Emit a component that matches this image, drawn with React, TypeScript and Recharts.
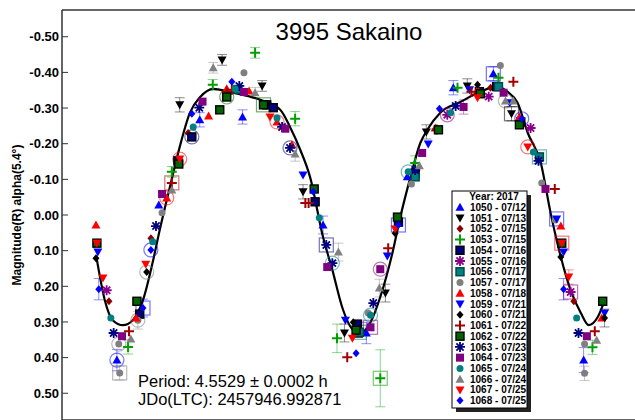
import React from "react";
import { ComposedChart, Scatter, Line, XAxis, YAxis, ErrorBar } from "recharts";

// [phase, magnitude, error?]
type Pt = [number, number, number?];

const xTicks = [0, 0.1, 0.2, 0.3, 0.4, 0.5, 0.6, 0.7, 0.8, 0.9, 1.0];
const yTicks = [-0.5, -0.4, -0.3, -0.2, -0.1, 0, 0.1, 0.2, 0.3, 0.4, 0.5];

const s1050: Pt[] = [[0.088, -0.028], [0.176, -0.267, 0.02], [0.268, -0.275, 0.02], [0.441, 0.028, 0.025], [0.534, 0.331, 0.03], [0.622, -0.107], [0.721, -0.357, 0.02], [0.807, -0.396, 0.02], [-0.002, 0.407, 0.03], [1.001, 0.407, 0.035]];
const s1051: Pt[] = [[0.224, -0.435, 0.015], [0.31, -0.362, 0.015], [0.133, -0.309, 0.02], [0.398, -0.065, 0.02], [0.487, 0.331, 0.025], [0.575, 0.219, 0.025], [0.663, -0.233, 0.02], [0.751, -0.362, 0.02], [0.846, -0.284, 0.02]];
const s1052: Pt[] = [[0.151, -0.23], [-0.019, 0.242], [0.071, 0.065], [0.801, -0.357], [0.98, 0.242]];
const s1053: Pt[] = [[0.295, -0.455, 0.015], [0.204, -0.365, 0.015], [0.381, -0.27, 0.02], [0.116, -0.121, 0.015], [0.022, 0.37, 0.02], [0.471, 0.346, 0.04], [0.564, 0.458, 0.08], [0.639, -0.146, 0.02], [0.73, -0.357], [0.818, -0.385], [1.02, 0.371, 0.02]];
const s1054: Pt[] = [[0.159, -0.219], [0.32, -0.309], [0.334, -0.301], [0.424, -0.037], [0.129, -0.152], [0.047, 0.278], [0.515, 0.306], [0.517, 0.331], [0.603, 0.02], [0.639, -0.118], [0.777, -0.346], [0.814, -0.36], [0.866, -0.261]];
const s1055: Pt[] = [[-0.024, 0.211], [0.708, -0.281], [0.797, -0.332], [0.887, -0.244], [0.973, 0.216]];
const s1056: Pt[] = [[0.519, 0.329], [0.639, -0.107], [0.818, -0.36], [0.906, -0.163], [0.258, -0.352]];
const s1057: Pt[] = [[0.271, -0.399], [0.002, 0.362], [0.004, 0.443, 0.02], [0.043, 0.295, 0.025], [0.095, -0.006], [0.538, 0.275], [0.631, -0.087], [0.822, -0.419], [0.911, -0.09], [0.94, 0.014], [1.003, 0.362], [1.003, 0.444, 0.02]];
const s1058: Pt[] = [[0.234, -0.354], [0.282, -0.348], [0.195, -0.278], [0.105, -0.048], [-0.047, 0.028], [0.039, 0.289], [0.374, -0.197], [0.342, -0.261], [0.682, -0.244], [0.773, -0.351], [0.863, -0.275], [0.952, 0.031], [1.04, 0.289]];
const s1059: Pt[] = [[-0.043, 0.104], [0.398, -0.112], [0.489, 0.295], [0.579, 0.115], [0.667, -0.199], [0.756, -0.351], [0.842, -0.315], [0.943, 0.011], [0.958, 0.104], [1.046, 0.275]];
const s1060: Pt[] = [[-0.047, 0.121], [0.062, 0.16], [0.506, 0.301], [0.596, 0.051], [0.773, -0.365], [0.952, 0.118], [1.046, 0.289, 0.025]];
const s1061: Pt[] = [[0.234, -0.346], [0.245, -0.351], [0.403, -0.034], [0.41, -0.034], [0.116, -0.09], [0.024, 0.326], [0.493, 0.399], [0.581, 0.093], [0.76, -0.346], [0.85, -0.374], [0.939, -0.073], [1.025, 0.326], [0.685, -0.24]];
const s1062: Pt[] = [[0.234, -0.331], [0.219, -0.295], [0.313, -0.309], [0.422, -0.073], [0.131, -0.143], [-0.045, 0.079], [0.041, 0.242], [0.512, 0.323], [0.601, 0.006], [0.689, -0.239], [0.779, -0.34], [0.863, -0.253], [0.954, 0.079], [1.042, 0.242]];
const s1063: Pt[] = [[0.261, -0.362], [0.175, -0.301], [0.353, -0.247], [0.37, -0.188], [-0.009, 0.331], [0.082, 0.031], [0.448, 0.084], [0.461, 0.135], [0.549, 0.247], [0.639, -0.126], [0.726, -0.306], [0.904, -0.152], [0.99, 0.331]];
const s1064: Pt[] = [[0.271, -0.345], [0.182, -0.318], [0.36, -0.242], [0.095, -0.059], [0.009, 0.34], [0.45, 0.146], [0.543, 0.315], [0.564, 0.152], [0.654, -0.174], [0.743, -0.303, 0.02], [0.829, -0.343], [0.919, -0.073], [1.008, 0.34]];
const s1065: Pt[] = [[0.252, -0.354], [0.162, -0.247], [0.342, -0.272], [-0.015, 0.289], [0.075, 0.075], [0.433, 0.008], [0.543, 0.281], [0.624, -0.121], [0.715, -0.287], [0.893, -0.177], [0.986, 0.289]];
const s1066: Pt[] = [[0.205, -0.413, 0.015], [0.295, -0.343, 0.015], [0.381, -0.171, 0.02], [0.116, -0.07], [0.028, 0.348], [0.474, 0.104, 0.025], [0.562, 0.205, 0.025], [0.648, -0.138], [0.833, -0.32], [0.85, -0.32], [1.029, 0.351]];
const s1067: Pt[] = [[0.327, -0.275], [0.133, -0.157], [-0.045, 0.079], [-0.032, 0.177], [0.06, 0.138], [0.504, 0.346], [0.596, 0.039], [0.773, -0.329], [0.881, -0.191], [0.954, 0.079], [0.969, 0.174, 0.02]];
const s1068: Pt[] = [[0.245, -0.374], [0.159, -0.284], [-0.041, 0.208, 0.03], [0.054, 0.261, 0.025], [0.071, 0.098], [0.42, -0.065], [0.512, 0.388], [0.603, 0.028], [0.691, -0.298], [0.868, -0.27], [0.958, 0.208, 0.03]];

// open rings drawn around some observations: [phase, mag, "c" | "s", session]
const rings: [number, number, string, string][] = [
  [0.234, -0.331, "c", "1062"], [0.159, -0.219, "c", "1054"], [0.133, -0.157, "c", "1067"],
  [0.116, -0.09, "s", "1061"], [0.105, -0.048, "c", "1058"], [0.313, -0.309, "s", "1062"],
  [0.342, -0.261, "c", "1058"], [0.37, -0.188, "c", "1063"], [0.002, 0.362, "c", "1057"],
  [-0.002, 0.407, "c", "1050"], [0.004, 0.443, "s", "1057"], [0.043, 0.295, "c", "1057"],
  [0.062, 0.16, "c", "1057"], [0.071, 0.098, "c", "1068"], [0.054, 0.261, "s", "1068"],
  [0.448, 0.084, "s", "1063"], [0.461, 0.135, "c", "1065"], [0.519, 0.329, "s", "1056"],
  [0.543, 0.315, "s", "1064"], [0.543, 0.281, "c", "1065"], [0.564, 0.152, "c", "1064"],
  [0.603, 0.028, "s", "1068"], [0.624, -0.121, "c", "1065"], [0.564, 0.458, "s", "1053"],
  [0.807, -0.396, "s", "1050"], [0.833, -0.32, "c", "1066"], [0.846, -0.284, "s", "1051"],
  [0.868, -0.27, "c", "1068"], [0.881, -0.191, "c", "1067"], [0.906, -0.163, "s", "1056"],
  [0.943, 0.011, "s", "1059"], [0.954, 0.079, "s", "1058"], [0.973, 0.216, "s", "1055"],
  [0.708, -0.281, "c", "1055"],
];

// Fourier fit: [phase, mag]
const fitCurve: [number, number][] = [
  [-0.045, 0.126], [-0.028, 0.239], [-0.011, 0.295], [0.011, 0.309], [0.032, 0.295], [0.054, 0.239],
  [0.075, 0.132], [0.09, 0.042], [0.112, -0.079], [0.133, -0.191], [0.155, -0.287], [0.177, -0.331],
  [0.205, -0.354], [0.248, -0.343], [0.306, -0.323], [0.349, -0.295], [0.37, -0.247], [0.392, -0.183],
  [0.413, -0.107], [0.441, 0.062], [0.461, 0.154], [0.482, 0.258], [0.506, 0.323], [0.521, 0.331],
  [0.543, 0.301], [0.564, 0.23], [0.59, 0.107], [0.607, 0.006], [0.629, -0.107], [0.65, -0.202],
  [0.665, -0.239], [0.693, -0.287], [0.736, -0.317], [0.779, -0.346], [0.816, -0.36], [0.837, -0.346],
  [0.859, -0.315], [0.881, -0.23], [0.909, -0.146], [0.93, -0.006], [0.952, 0.118], [0.973, 0.211],
  [0.995, 0.275], [1.012, 0.309], [1.031, 0.287], [1.044, 0.247],
];

const sessions = [
  { id: "1050", date: "07/12", kind: "up", color: "#0000ff", pts: s1050 },
  { id: "1051", date: "07/13", kind: "down", color: "#000000", pts: s1051 },
  { id: "1052", date: "07/15", kind: "diamond", color: "#8b0000", pts: s1052 },
  { id: "1053", date: "07/15", kind: "plus", color: "#00a000", pts: s1053 },
  { id: "1054", date: "07/16", kind: "square", color: "#000080", edge: "#000", pts: s1054 },
  { id: "1055", date: "07/16", kind: "star", color: "#8b008b", pts: s1055 },
  { id: "1056", date: "07/17", kind: "square", color: "#008080", edge: "#044", pts: s1056 },
  { id: "1057", date: "07/17", kind: "circle", color: "#808080", pts: s1057 },
  { id: "1058", date: "07/18", kind: "up", color: "#ff0000", pts: s1058 },
  { id: "1059", date: "07/21", kind: "down", color: "#0000ff", pts: s1059 },
  { id: "1060", date: "07/21", kind: "diamond", color: "#000000", pts: s1060 },
  { id: "1061", date: "07/22", kind: "plus", color: "#a00000", pts: s1061 },
  { id: "1062", date: "07/22", kind: "square", color: "#006400", edge: "#000", pts: s1062 },
  { id: "1063", date: "07/23", kind: "star", color: "#000080", pts: s1063 },
  { id: "1064", date: "07/23", kind: "square", color: "#800080", pts: s1064 },
  { id: "1065", date: "07/24", kind: "circle", color: "#008080", pts: s1065 },
  { id: "1066", date: "07/24", kind: "up", color: "#808080", pts: s1066 },
  { id: "1067", date: "07/25", kind: "down", color: "#ff0000", pts: s1067 },
  { id: "1068", date: "07/25", kind: "diamond", color: "#0000ff", pts: s1068 },
];

const FONT = "Arial, 'Liberation Sans', Helvetica, sans-serif";

function Mark({ cx, cy, kind, color, edge }: { cx: number; cy: number; kind: string; color: string; edge?: string }) {
  if (cx == null || cy == null) return null;
  switch (kind) {
    case "up":
      return <polygon points={`${cx},${cy - 4.5} ${cx + 4.5},${cy + 3.5} ${cx - 4.5},${cy + 3.5}`} fill={color} />;
    case "down":
      return <polygon points={`${cx},${cy + 4.5} ${cx + 4.5},${cy - 3.5} ${cx - 4.5},${cy - 3.5}`} fill={color} />;
    case "diamond":
      return <polygon points={`${cx},${cy - 4} ${cx + 3.5},${cy} ${cx},${cy + 4} ${cx - 3.5},${cy}`} fill={color} />;
    case "circle":
      return <circle cx={cx} cy={cy} r={3.5} fill={color} />;
    case "square":
      return (
        <rect x={cx - 4} y={cy - 4} width={8} height={8} fill={color}
          stroke={edge || color} strokeWidth={edge ? 1.4 : 0} />
      );
    case "plus":
      return <path d={`M${cx - 5},${cy}H${cx + 5}M${cx},${cy - 5}V${cy + 5}`} stroke={color} strokeWidth={2} />;
    case "star":
      return (
        <path
          d={`M${cx - 5},${cy}H${cx + 5}M${cx},${cy - 5}V${cy + 5}M${cx - 3.6},${cy - 3.6}L${cx + 3.6},${cy + 3.6}M${cx - 3.6},${cy + 3.6}L${cx + 3.6},${cy - 3.6}`}
          stroke={color} strokeWidth={1.8} />
      );
    default:
      return null;
  }
}

function Ring(props: any) {
  const { cx, cy, payload } = props;
  const s = sessions.find((d) => d.id === payload.id);
  const color = s ? s.color : "#888";
  if (payload.shape === "s") {
    return <rect x={cx - 7} y={cy - 7} width={14} height={14} fill="none" stroke={color} strokeOpacity={0.55} strokeWidth={1.2} />;
  }
  return <circle cx={cx} cy={cy} r={7} fill="none" stroke={color} strokeOpacity={0.55} strokeWidth={1.2} />;
}

function LegendBox() {
  const rowH = 10.74;
  return (
    <g transform="translate(452,191)" fontFamily={FONT}>
      <rect x={4} y={4} width={75} height={217} fill="#222" />
      <rect x={0} y={0} width={75} height={217} fill="#fff" stroke="#000" strokeWidth={1} />
      <text x={42} y={9} textAnchor="middle" fontSize={10} fontWeight={700}>Year: 2017</text>
      {sessions.map((s, i) => {
        const cy = 16.3 + i * rowH;
        return (
          <g key={s.id}>
            <Mark cx={8} cy={cy} kind={s.kind} color={s.color} edge={s.edge} />
            <text x={18} y={cy + 3.6} fontSize={10} fontWeight={700}>{`${s.id} - ${s.date}`}</text>
          </g>
        );
      })}
    </g>
  );
}

export default function App() {
  const axisStroke = { stroke: "#333", strokeWidth: 1.5 };
  const ringData = rings.map(([x, y, shape, id]) => ({ x, y, shape, id }));
  const curve = fitCurve.map(([x, y]) => ({ x, y }));
  return (
    <div style={{ position: "fixed", left: 0, top: 0, width: 635, height: 420, overflow: "hidden", background: "#fff", fontFamily: FONT }}>
      <ComposedChart width={642} height={450} margin={{ top: 9, right: 2, left: 0, bottom: 0 }}>
        <XAxis dataKey="x" type="number" domain={[-0.12, 1.12]} ticks={xTicks} tick={false}
          tickSize={-6} height={30} axisLine={axisStroke} tickLine={{ stroke: "#333" }} allowDataOverflow />
        <XAxis xAxisId="t" orientation="top" type="number" domain={[-0.12, 1.12]} ticks={xTicks} tick={false}
          tickSize={-6} height={1} axisLine={axisStroke} tickLine={{ stroke: "#333" }} allowDataOverflow />
        <YAxis dataKey="y" type="number" reversed domain={[-0.575, 0.575]} ticks={yTicks} width={62}
          tickSize={-6} tickMargin={9} axisLine={axisStroke} tickLine={{ stroke: "#333" }} allowDataOverflow
          tickFormatter={(v: number) => v.toFixed(2)}
          tick={{ fontSize: 13, fontWeight: 700, fill: "#000", fontFamily: FONT }}
          label={{ value: "Magnitude(R) alpha(5.4°)", angle: -90, position: "center", dx: -14,
            style: { fontSize: 12, fontWeight: 700, fill: "#000", fontFamily: FONT } }} />
        <YAxis yAxisId="r" orientation="right" type="number" reversed domain={[-0.575, 0.575]} ticks={yTicks}
          width={1} tick={false} tickSize={-6} axisLine={axisStroke} tickLine={{ stroke: "#333" }} allowDataOverflow />
        <Scatter data={ringData} isAnimationActive={false} shape={(p: any) => <Ring {...p} />} />
        {sessions.map((s) => (
          <Scatter key={s.id} name={`${s.id} - ${s.date}`} data={s.pts.map(([x, y, e]) => ({ x, y, e }))}
            isAnimationActive={false}
            shape={(p: any) => <Mark cx={p.cx} cy={p.cy} kind={s.kind} color={s.color} edge={s.edge} />}>
            <ErrorBar dataKey="e" direction="y" width={5} stroke={s.color} strokeOpacity={0.45} strokeWidth={1} />
          </Scatter>
        ))}
        <Line data={curve} dataKey="y" type="monotone" dot={false} stroke="#000" strokeWidth={2.2}
          isAnimationActive={false} />
      </ComposedChart>
      <svg width={635} height={420} style={{ position: "absolute", left: 0, top: 0, pointerEvents: "none" }}>
        <text x={349} y={40} textAnchor="middle" fontSize={24} fontFamily={FONT}>3995 Sakaino</text>
        <text x={138} y={387} fontSize={16.5} fontFamily={FONT}>Period: 4.5529 ± 0.0002 h</text>
        <text x={138} y={405} fontSize={16.5} fontFamily={FONT}>JDo(LTC): 2457946.992871</text>
        <LegendBox />
      </svg>
    </div>
  );
}
